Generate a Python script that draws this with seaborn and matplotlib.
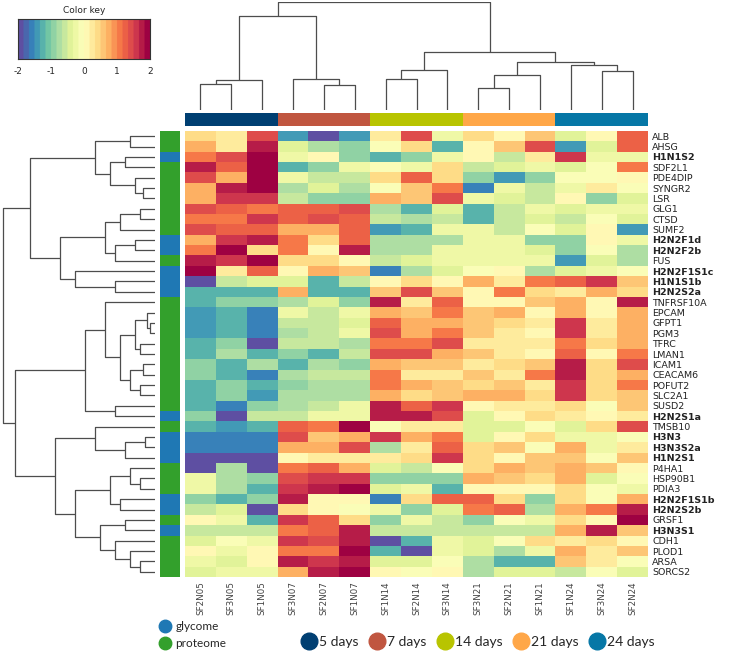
import numpy as np
import pandas as pd
import matplotlib
matplotlib.use("Agg")
import matplotlib.pyplot as plt
import seaborn as sns
from matplotlib.colors import ListedColormap
from matplotlib.lines import Line2D

sns.set_style("white")
plt.rcParams['font.family'] = ['DejaVu Sans']
plt.rcParams['axes.unicode_minus'] = False

# samples (columns) and features (rows), in the clustered order of the figure
samples = ['SF2N05', 'SF3N05', 'SF1N05', 'SF3N07', 'SF2N07', 'SF1N07', 'SF1N14', 'SF2N14',
           'SF3N14', 'SF3N21', 'SF2N21', 'SF1N21', 'SF1N24', 'SF3N24', 'SF2N24']
sample_day = ['5 days'] * 3 + ['7 days'] * 3 + ['14 days'] * 3 + ['21 days'] * 3 + ['24 days'] * 3

features = ['ALB', 'AHSG', 'H1N1S2', 'SDF2L1', 'PDE4DIP', 'SYNGR2', 'LSR', 'GLG1', 'CTSD', 'SUMF2',
            'H2N2F1d', 'H2N2F2b', 'FUS', 'H2N2F1S1c', 'H1N1S1b', 'H2N2S2a', 'TNFRSF10A', 'EPCAM',
            'GFPT1', 'PGM3', 'TFRC', 'LMAN1', 'ICAM1', 'CEACAM6', 'POFUT2', 'SLC2A1', 'SUSD2',
            'H2N2S1a', 'TMSB10', 'H3N3', 'H3N3S2a', 'H1N2S1', 'P4HA1', 'HSP90B1', 'PDIA3',
            'H2N2F1S1b', 'H2N2S2b', 'GRSF1', 'H3N3S1', 'CDH1', 'PLOD1', 'ARSA', 'SORCS2']
feature_type = ['proteome', 'proteome', 'glycome'] + ['proteome'] * 7 + ['glycome', 'glycome', 'proteome'] + \
               ['glycome'] * 3 + ['proteome'] * 11 + ['glycome', 'proteome'] + ['glycome'] * 3 + \
               ['proteome'] * 3 + ['glycome', 'glycome', 'proteome', 'glycome'] + ['proteome'] * 4

# row z-scores
zscores = [
    [0.45, 0.3, 1.35, -1.5, -2.0, -1.5, 0.2, 1.35, -0.2, 0.4, 0.15, 0.6, -0.45, 0.15, 1.2],
    [0.8, 0.3, 1.8, -0.45, -0.8, -1.0, -0.1, 0.45, -1.2, 0.0, 0.6, 1.35, -1.5, -0.45, 1.2],
    [1.0, 1.35, 2.0, -0.3, 0.15, -1.0, -1.2, -1.0, -0.3, 0.15, -0.6, 0.3, 1.5, -0.2, -0.3],
    [1.8, 1.2, 2.0, -1.2, -1.0, -0.3, -0.1, -0.3, 0.45, -0.6, -0.45, -0.2, -0.45, -0.1, 1.0],
    [1.35, 0.8, 2.0, -0.3, -0.6, -0.6, 0.4, 1.2, 0.45, -1.0, -1.5, -1.0, -0.1, -0.1, 0.15],
    [0.8, 1.7, 2.0, -0.8, -0.45, -0.8, -0.1, 0.6, 1.0, -1.6, -0.3, -0.6, -0.3, 0.3, -0.1],
    [0.8, 1.5, 1.65, -0.6, -1.0, -1.0, 0.8, 0.6, 1.35, -0.2, -0.45, -0.6, 0.0, -1.0, -0.45],
    [1.35, 1.2, 1.0, 1.2, 1.2, 1.35, -0.8, -1.2, -0.45, -1.2, -0.6, -0.2, -0.45, -0.2, -0.3],
    [1.0, 1.0, 1.5, 1.2, 1.35, 1.2, -0.6, -0.8, -0.6, -1.2, -0.6, -0.45, -0.6, -0.1, -0.45],
    [1.35, 1.2, 1.2, 0.8, 0.8, 1.2, -1.5, -1.2, -0.2, -0.3, -0.6, -0.1, -0.45, 0.15, -1.5],
    [0.8, 1.5, 1.7, 1.0, 0.45, 1.2, -0.8, -0.8, -0.8, -0.2, -0.3, -1.0, -1.0, 0.0, -0.2],
    [1.0, 2.0, 0.45, 1.0, 0.05, 1.7, -0.8, -0.8, -0.3, -0.3, -0.2, -0.45, -1.0, -0.1, -0.8],
    [1.7, 1.5, 2.0, 0.45, 0.45, 0.15, -0.6, -0.45, -0.3, -0.2, -0.3, -0.3, -1.5, -0.45, -0.8],
    [2.0, 0.3, 1.2, 0.15, 0.8, 0.6, -1.6, -0.8, -0.45, -0.1, 0.15, -0.8, -0.45, -0.3, -0.1],
    [-2.0, -0.6, -0.45, -0.45, -1.2, -0.6, 0.15, 0.45, 0.15, 0.8, 0.3, 1.0, 1.2, 1.5, 0.6],
    [-1.2, -1.2, -1.2, 0.8, -1.2, -1.2, 0.6, 1.35, 0.6, 0.0, 1.0, 0.45, 0.3, 0.8, 0.45],
    [-1.2, -1.0, -1.0, -0.8, -0.45, -1.0, 1.7, 0.3, 1.2, 0.15, 0.15, 0.6, 0.8, 0.0, 1.7],
    [-1.5, -1.2, -1.6, -0.3, -0.6, -0.3, 0.8, 0.6, 1.0, 0.6, 0.7, 0.15, 0.8, 0.0, 0.8],
    [-1.5, -1.2, -1.6, -0.6, -0.6, -0.45, 1.2, 0.8, 0.8, 0.6, 0.45, 0.3, 1.5, 0.3, 0.8],
    [-1.5, -1.2, -1.6, -0.8, -0.6, -0.3, 1.35, 0.8, 1.0, 0.6, 0.3, 0.15, 1.5, 0.3, 0.8],
    [-1.2, -1.0, -1.9, -0.6, -0.6, -0.8, 1.0, 1.0, 1.35, 0.3, 0.3, 0.3, 1.0, 0.45, 0.8],
    [-1.2, -0.8, -1.2, -1.0, -1.2, -0.6, 1.35, 1.35, 0.8, 0.6, 0.3, 0.15, 1.2, 0.15, 1.0],
    [-1.0, -1.2, -0.8, -1.2, -0.8, -1.0, 0.8, 0.6, 0.6, 0.3, 0.45, 0.6, 1.7, 0.45, 1.35],
    [-1.0, -1.2, -1.6, -0.8, -0.6, -0.6, 1.0, 0.3, 0.3, 0.6, 0.3, 1.0, 1.8, 0.45, 0.8],
    [-1.2, -1.0, -1.2, -1.0, -0.8, -0.8, 1.0, 0.8, 0.6, 0.45, 0.6, 0.3, 1.5, 0.45, 1.0],
    [-1.2, -1.0, -1.5, -0.8, -0.8, -0.8, 0.8, 0.45, 0.6, 0.8, 0.8, 0.45, 1.5, 0.45, 0.6],
    [-1.2, -1.6, -1.0, -0.8, -0.6, -0.2, 1.7, 1.2, 1.5, 0.15, 0.3, 0.3, 0.45, -0.1, 0.6],
    [-1.0, -1.9, -0.6, -0.6, -0.2, -0.2, 1.7, 1.8, 1.35, -0.45, 0.0, 0.45, 0.3, 0.15, 0.3],
    [-1.2, -1.5, -1.2, 1.2, 1.0, 2.0, -0.1, 0.3, 0.3, -0.45, -0.45, -0.1, -0.45, 0.45, 1.35],
    [-1.6, -1.6, -1.6, 1.35, 0.6, 0.8, 1.5, 0.8, 1.0, -0.45, 0.1, 0.45, -0.2, -0.2, -0.1],
    [-1.6, -1.6, -1.6, 0.8, 0.8, 1.35, -0.8, 0.3, 1.2, 0.45, 0.6, -0.1, 0.8, -0.2, 0.3],
    [-1.9, -1.9, -1.9, 0.0, 0.3, 0.3, 0.3, 0.45, 1.5, 0.45, 0.15, 0.6, 0.6, -0.1, 0.6],
    [-1.9, -0.8, -2.0, 1.0, 1.2, 0.8, -0.45, -0.6, -0.1, 0.45, 0.8, 0.6, 0.8, 0.6, 0.0],
    [-0.3, -0.8, -1.0, 1.35, 1.5, 1.5, -1.0, -1.0, -1.0, 0.8, 0.6, 0.45, 0.8, -0.45, -0.1],
    [-0.3, -0.8, -1.2, 1.5, 1.7, 2.0, -0.45, -0.3, -1.2, 0.0, 0.15, 0.0, 0.45, -0.1, -0.2],
    [-1.0, -1.2, -1.0, 1.7, 0.15, 0.15, -1.6, 0.45, 1.2, 1.2, 0.45, -1.0, 0.45, -0.1, 0.8],
    [-0.6, -0.45, -1.9, 0.45, 0.05, -0.1, -0.2, -1.0, -0.45, 1.0, 1.2, -0.8, 0.8, 1.0, 1.8],
    [0.15, -0.3, -1.2, 1.5, 1.2, 0.45, -1.0, -0.2, -0.6, -1.0, -0.1, -0.2, 0.45, 0.15, 2.0],
    [-0.6, -0.6, -0.6, 1.0, 1.2, 1.7, -0.6, -0.6, -0.6, -0.6, -0.6, -0.6, 0.8, 1.8, 0.6],
    [-0.45, -0.1, -0.3, 1.5, 1.35, 1.8, -1.9, -1.2, -0.3, -0.45, -0.1, 0.45, 0.3, 0.45, 0.0],
    [0.0, -0.2, 0.15, 1.0, 1.0, 2.0, -1.2, -1.9, -0.2, -0.45, -0.8, -0.3, 0.8, 0.3, 0.6],
    [-0.2, -0.45, 0.0, 1.7, 1.5, 1.8, -0.45, -0.45, -0.1, -0.8, -1.2, -1.2, 0.6, 0.3, -0.1],
    [-0.45, -0.2, -0.3, 0.8, 1.7, 2.0, 0.0, -0.1, 0.0, -0.8, -0.45, -0.45, -0.6, -0.1, -0.45],
]

# dendrograms as nested [height, left, right], leaves are positions in the order above
col_tree = [325, [281, [89, [77, 0, 1], 2], [93, 3, [74, 4, 5]]],
            [173, [119, [92, 6, 7], 8], [143, [104, [65, 9, 10], 11], [134, 12, [116, 13, 14]]]]]

row_upper = [125, [60, [25, 0, 1], [45, [30, 2, 3], [20, 4, [12, 5, 6]]]],
             [95, [50, [35, [15, 7, 8], 9], [40, [20, 10, 11], 12]], [80, 13, [40, 14, 15]]]]
row_middle = [70, [50, 16, [35, [20, [8, 17, [5, 18, 19]], [15, 20, 21]], [25, [12, 22, 23], [15, 24, 25]]]],
              [40, 26, 27]]
row_lower = [100, [60, 28, [30, [10, 29, 30], 31]],
             [80, [45, [25, 32, [15, 33, 34]], [35, 35, 36]], [55, [30, 37, 38], [40, 39, [25, 40, [15, 41, 42]]]]]]
row_tree = [152, row_upper, [140, row_middle, row_lower]]

day_colors = {'5 days': '#003f72', '7 days': '#c05640', '14 days': '#b8c400',
              '21 days': '#ffa748', '24 days': '#0677a6'}
type_colors = {'glycome': '#1f78b4', 'proteome': '#33a02c'}
day_names = list(day_colors.keys())
type_names = list(type_colors.keys())

df = pd.DataFrame(zscores, index=features, columns=samples)
cmap = plt.get_cmap('Spectral_r', 24)

W, H = 738, 661


def box(x0, y0, x1, y1):
    # pixel box -> figure fraction rect
    return [x0 / W, 1 - y1 / H, (x1 - x0) / W, (y1 - y0) / H]


def draw_tree(ax, node, vertical):
    if isinstance(node, int):
        return node + 0.5, 0.0
    h, left, right = node
    p1, h1 = draw_tree(ax, left, vertical)
    p2, h2 = draw_tree(ax, right, vertical)
    pos = [p1, p1, p2, p2]
    hts = [h1, h, h, h2]
    if vertical:
        ax.plot(pos, hts, color='#4d4d4d', lw=0.9, solid_capstyle='butt')
    else:
        ax.plot(hts, pos, color='#4d4d4d', lw=0.9, solid_capstyle='butt')
    return (p1 + p2) / 2, h


fig = plt.figure(figsize=(W / 100, H / 100), dpi=100)

# main heatmap
ax_heat = fig.add_axes(box(185, 131, 648, 577))
sns.heatmap(df, ax=ax_heat, cmap=cmap, vmin=-2, vmax=2, cbar=False,
            xticklabels=True, yticklabels=True)
ax_heat.yaxis.tick_right()
ax_heat.tick_params(axis='both', length=0, pad=3)
ax_heat.set_yticklabels(features, rotation=0, fontsize=6.8, color='#222222')
for lab, t in zip(ax_heat.get_yticklabels(), feature_type):
    if t == 'glycome':
        lab.set_fontweight('bold')
ax_heat.set_xticklabels(samples, rotation=90, fontsize=6.3, color='#444444')
ax_heat.set_xlabel('')
ax_heat.set_ylabel('')

# side colour bars
row_codes = pd.DataFrame([[type_names.index(t)] for t in feature_type])
ax_rc = fig.add_axes(box(160, 131, 180, 577))
sns.heatmap(row_codes, ax=ax_rc, cmap=ListedColormap(list(type_colors.values())),
            vmin=-0.5, vmax=1.5, cbar=False, xticklabels=False, yticklabels=False)

col_codes = pd.DataFrame([[day_names.index(d) for d in sample_day]])
ax_cc = fig.add_axes(box(185, 113, 648, 126))
sns.heatmap(col_codes, ax=ax_cc, cmap=ListedColormap(list(day_colors.values())),
            vmin=-0.5, vmax=4.5, cbar=False, xticklabels=False, yticklabels=False)

# dendrograms
ax_cd = fig.add_axes(box(185, 1.5, 648, 110))
draw_tree(ax_cd, col_tree, True)
ax_cd.set_xlim(0, len(samples))
ax_cd.set_ylim(0, 326)
ax_cd.axis('off')

ax_rd = fig.add_axes(box(0, 131, 155, 577))
draw_tree(ax_rd, row_tree, False)
ax_rd.set_ylim(len(features), 0)
ax_rd.set_xlim(155, 0)
ax_rd.axis('off')

# colour key
ax_key = fig.add_axes(box(18, 19, 150, 59))
grad = np.linspace(-2, 2, 240).reshape(1, -1)
ax_key.imshow(grad, aspect='auto', cmap=cmap, vmin=-2, vmax=2, extent=[-2, 2, 0, 1])
ax_key.set_yticks([])
ax_key.set_xticks([-2, -1, 0, 1, 2])
ax_key.tick_params(axis='x', length=3, width=0.8, labelsize=6.5, pad=3, color='#333333')
ax_key.set_title('Color key', fontsize=6.5, pad=4)
for s in ax_key.spines.values():
    s.set_linewidth(0.8)
    s.set_color('#333333')

# legends
type_handles = [Line2D([], [], marker='o', ls='', markersize=9, color=type_colors[n]) for n in type_names]
fig.legend(type_handles, type_names, loc='upper left', bbox_to_anchor=(154 / W, 1 - 616 / H),
           frameon=False, handlelength=1.0, handletextpad=0.4, labelspacing=0.55, borderaxespad=0,
           prop={'family': 'Lato', 'size': 8.5})

day_handles = [Line2D([], [], marker='o', ls='', markersize=12, color=day_colors[n]) for n in day_names]
fig.legend(day_handles, day_names, loc='center', bbox_to_anchor=(478 / W, 1 - 642 / H), ncol=5,
           frameon=False, handlelength=1.1, handletextpad=0.15, columnspacing=0.8, borderaxespad=0,
           prop={'family': 'Lato', 'size': 10})

fig.savefig('out.png', dpi=100)
